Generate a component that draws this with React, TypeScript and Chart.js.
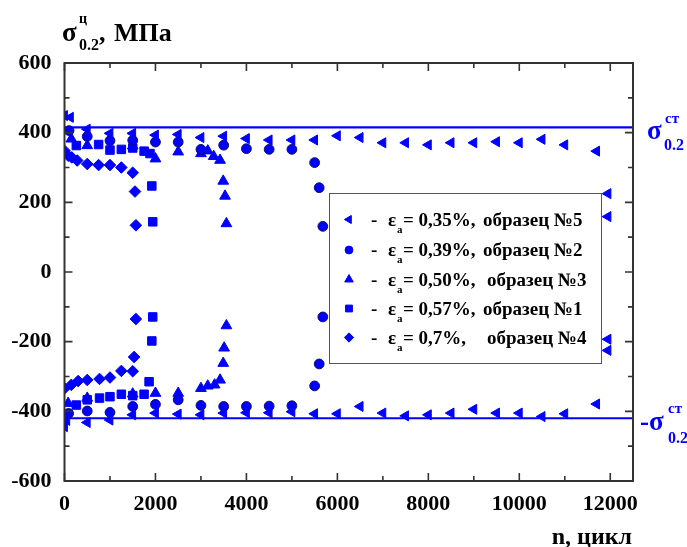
import React, { useEffect, useRef } from 'react';
import { Chart, registerables } from 'chart.js';
import { drawPoint } from 'chart.js/helpers';

Chart.register(...registerables);

// ---- data ----
const xMin = 0;
const xMax = 12500;
const yMin = -600;
const yMax = 600;
const xTickValues = [0, 1000, 2000, 3000, 4000, 5000, 6000, 7000, 8000, 9000, 10000, 11000, 12000];
const xTickLabels = ['0', '', '2000', '', '4000', '', '6000', '', '8000', '', '10000', '', '12000'];
const yTickValues = [-600, -500, -400, -300, -200, -100, 0, 100, 200, 300, 400, 500, 600];
const yTickLabels = ['-600', '', '-400', '', '-200', '', '0', '', '200', '', '400', '', '600'];

const sigmaStUpper = 415;
const sigmaStLower = -420;

// ε = 0,35%, образец №5 (left triangles)
const s5Upper: [number, number][] = [
  [0, 449], [130, 444], [500, 410], [1000, 398], [1500, 398], [2000, 393], [2500, 395],
  [3000, 386], [3500, 390], [4000, 383], [4500, 379], [5000, 379], [5500, 379], [6000, 391],
  [6500, 386], [7000, 371], [7500, 371], [8000, 365], [8500, 371], [9000, 371], [9500, 374],
  [10000, 371], [10500, 381], [11000, 365], [11700, 347], [11950, 225], [11950, 159],
];
const s5Lower: [number, number][] = [
  [0, -444], [50, -426], [500, -432], [1000, -425], [1500, -410], [2000, -405], [2500, -408],
  [3000, -410], [3500, -405], [4000, -404], [4500, -404], [5000, -401], [5500, -407],
  [6000, -407], [6500, -386], [7000, -405], [7500, -413], [8000, -410], [8500, -405],
  [9000, -394], [9500, -405], [10000, -405], [10500, -415], [11000, -407], [11700, -379],
  [11950, -225], [11950, -193],
];

// ε = 0,39%, образец №2 (circles)
const s2Upper: [number, number][] = [
  [100, 406], [500, 389], [1000, 377], [1500, 378], [2000, 373], [2500, 373], [3000, 352],
  [3500, 364], [4000, 354], [4500, 352], [5000, 352], [5500, 314], [5600, 242], [5680, 131],
];
const s2Lower: [number, number][] = [
  [90, -406], [500, -399], [1000, -403], [1500, -386], [2000, -380], [2500, -367], [3000, -383],
  [3500, -386], [4000, -386], [4500, -385], [5000, -384], [5500, -327], [5600, -264], [5680, -129],
];

// ε = 0,50%, образец №3 (triangles)
const s3Upper: [number, number][] = [
  [150, 382], [500, 363], [1500, 362], [2000, 325], [2500, 345], [3000, 340], [3150, 348],
  [3280, 332], [3420, 321], [3490, 261], [3530, 218], [3560, 139],
];
const s3Lower: [number, number][] = [
  [80, -377], [500, -362], [1500, -350], [2000, -348], [2500, -348], [3000, -334], [3150, -327],
  [3300, -324], [3420, -310], [3490, -262], [3510, -218], [3560, -154],
];

// ε = 0,57%, образец №1 (squares)
const s1Upper: [number, number][] = [
  [260, 363], [750, 366], [1000, 350], [1250, 352], [1500, 356], [1750, 347], [1880, 340],
  [1920, 247], [1940, 144],
];
const s1Lower: [number, number][] = [
  [260, -382], [500, -367], [770, -362], [1000, -358], [1250, -351], [1500, -355], [1750, -351],
  [1860, -315], [1920, -198], [1940, -129],
];

// ε = 0,7%, образец №4 (diamonds)
const s4Upper: [number, number][] = [
  [0, 348], [80, 334], [160, 329], [280, 320], [500, 310], [750, 307], [1000, 307], [1250, 300],
  [1500, 285], [1550, 231], [1570, 134],
];
const s4Lower: [number, number][] = [
  [0, -334], [150, -324], [300, -313], [500, -310], [770, -307], [1000, -303], [1250, -284],
  [1500, -285], [1530, -244], [1570, -135],
];

const legendPercents = ['= 0,35%,', '= 0,39%,', '= 0,50%,', '= 0,57%,', '= 0,7%,'];
const legendSamples = ['образец №5', 'образец №2', 'образец №3', 'образец №1', 'образец №4'];

// ---- styles ----
const BLUE = '#0000ff';
const FONT = '"Liberation Serif", "Times New Roman", serif';

type Marker = { pointStyle: string; rotation: number; radius: number };
const markers: Marker[] = [
  { pointStyle: 'triangle', rotation: 270, radius: 5.8 },
  { pointStyle: 'circle', rotation: 0, radius: 4.9 },
  { pointStyle: 'triangle', rotation: 0, radius: 6.2 },
  { pointStyle: 'rect', rotation: 0, radius: 6 },
  { pointStyle: 'rectRot', rotation: 0, radius: 5.8 },
];
const seriesData = [
  [...s5Upper, ...s5Lower],
  [...s2Upper, ...s2Lower],
  [...s3Upper, ...s3Lower],
  [...s1Upper, ...s1Lower],
  [...s4Upper, ...s4Lower],
];
const legendSampleX = [483, 483, 487, 483, 487];

const toXY = (arr: [number, number][]) => arr.map(([x, y]) => ({ x, y }));

const framePlugin = {
  id: 'frameTicks',
  afterDraw(chart: any) {
    const ctx = chart.ctx;
    const { left, right, top, bottom } = chart.chartArea;
    const xs = chart.scales.x;
    const ys = chart.scales.y;
    ctx.save();
    ctx.strokeStyle = '#333';
    ctx.lineWidth = 1.6;
    xs.ticks.forEach((t: any) => {
      const px = xs.getPixelForValue(t.value);
      const len = t.value % 2000 === 0 ? 8 : 5;
      ctx.beginPath();
      ctx.moveTo(px, bottom);
      ctx.lineTo(px, bottom - len);
      ctx.moveTo(px, top);
      ctx.lineTo(px, top + len);
      ctx.stroke();
    });
    ys.ticks.forEach((t: any) => {
      const py = ys.getPixelForValue(t.value);
      const len = t.value % 200 === 0 ? 8 : 5;
      ctx.beginPath();
      ctx.moveTo(left, py);
      ctx.lineTo(left + len, py);
      ctx.moveTo(right, py);
      ctx.lineTo(right - len, py);
      ctx.stroke();
    });
    ctx.lineWidth = 2;
    ctx.strokeRect(left, top, right - left, bottom - top);

    // legend box
    const bx = 329, by = 193, bw = 272, bh = 170;
    ctx.fillStyle = '#fff';
    ctx.fillRect(bx, by, bw, bh);
    ctx.strokeStyle = '#555';
    ctx.lineWidth = 1;
    ctx.strokeRect(bx + 0.5, by + 0.5, bw, bh);
    const rowY = [219.5, 250, 279.5, 308.5, 337.5];
    ctx.textBaseline = 'alphabetic';
    ctx.textAlign = 'left';
    rowY.forEach((ry, i) => {
      const m = markers[i];
      ctx.fillStyle = BLUE;
      ctx.strokeStyle = BLUE;
      ctx.lineWidth = 1;
      drawPoint(ctx, { pointStyle: m.pointStyle as any, rotation: m.rotation, radius: m.radius * 0.8, borderWidth: 1 }, 349, ry);
      ctx.fillStyle = '#000';
      const base = ry + 6;
      ctx.font = `bold 19px ${FONT}`;
      ctx.fillText('-', 371, base);
      ctx.fillText('ε', 388, base);
      ctx.fillText(legendPercents[i], 403, base);
      ctx.fillText(legendSamples[i], legendSampleX[i], base);
      ctx.font = `bold 11px ${FONT}`;
      ctx.fillText('a', 397, base + 7);
    });

    // axis titles
    ctx.fillStyle = '#000';
    ctx.font = `bold 27px ${FONT}`;
    ctx.fillText('σ', 62, 41);
    ctx.font = `bold 14px ${FONT}`;
    ctx.fillText('ц', 79, 23);
    ctx.font = `bold 16px ${FONT}`;
    ctx.fillText('0.2', 79, 50);
    ctx.font = `bold 26px ${FONT}`;
    ctx.fillText(',', 99, 41);
    ctx.fillText('МПа', 114, 41);

    ctx.textAlign = 'right';
    ctx.font = `bold 24px ${FONT}`;
    ctx.fillText('n, цикл', 632, 544);

    // right labels
    ctx.textAlign = 'left';
    ctx.fillStyle = BLUE;
    ctx.font = `bold 27px ${FONT}`;
    ctx.fillText('σ', 647, 139);
    ctx.font = `bold 15px ${FONT}`;
    ctx.fillText('ст', 665, 123);
    ctx.font = `bold 16px ${FONT}`;
    ctx.fillText('0.2', 664, 150);

    ctx.font = `bold 27px ${FONT}`;
    ctx.fillText('-σ', 640, 430);
    ctx.font = `bold 15px ${FONT}`;
    ctx.fillText('ст', 668, 413);
    ctx.font = `bold 16px ${FONT}`;
    ctx.fillText('0.2', 668, 443);
    ctx.restore();
  },
};

export default function App() {
  const ref = useRef<HTMLCanvasElement | null>(null);
  useEffect(() => {
    if (!ref.current) return;
    const datasets: any[] = seriesData.map((d, i) => ({
      type: 'scatter',
      data: toXY(d),
      backgroundColor: BLUE,
      borderColor: i === 1 ? '#10106a' : BLUE,
      borderWidth: 1,
      pointStyle: markers[i].pointStyle,
      pointRotation: markers[i].rotation,
      pointRadius: markers[i].radius,
      showLine: false,
    }));
    datasets.push(
      {
        type: 'scatter',
        data: [{ x: xMin, y: sigmaStUpper }, { x: xMax, y: sigmaStUpper }],
        showLine: true,
        borderColor: BLUE,
        borderWidth: 2.2,
        pointRadius: 0,
      },
      {
        type: 'scatter',
        data: [{ x: xMin, y: sigmaStLower }, { x: xMax, y: sigmaStLower }],
        showLine: true,
        borderColor: BLUE,
        borderWidth: 2,
        pointRadius: 0,
      },
    );
    const tickFont = { family: FONT, size: 22, weight: 'bold' as const };
    const chart = new Chart(ref.current, {
      type: 'scatter',
      data: { datasets },
      options: {
        animation: false,
        responsive: false,
        devicePixelRatio: 1,
        layout: { padding: { top: 63, left: 0, right: 54, bottom: 0 } },
        plugins: { legend: { display: false }, tooltip: { enabled: false }, title: { display: false } },
        scales: {
          x: {
            type: 'linear',
            min: xMin,
            max: xMax,
            grid: { display: false },
            border: { display: false },
            afterBuildTicks: (s: any) => { s.ticks = xTickValues.map((v) => ({ value: v })); },
            ticks: {
              autoSkip: false,
              maxRotation: 0,
              minRotation: 0,
              padding: 2,
              color: '#000',
              font: tickFont,
              callback: (v: any, idx: number) => xTickLabels[idx] ?? '',
            },
            afterFit: (s: any) => { s.height = 66; },
          },
          y: {
            type: 'linear',
            min: yMin,
            max: yMax,
            grid: { display: false },
            border: { display: false },
            afterBuildTicks: (s: any) => { s.ticks = yTickValues.map((v) => ({ value: v })); },
            ticks: {
              autoSkip: false,
              padding: 5,
              color: '#000',
              font: tickFont,
              callback: (v: any, idx: number) => yTickLabels[idx] ?? '',
            },
            afterFit: (s: any) => { s.width = 64.5; },
          },
        },
      },
      plugins: [framePlugin],
    });
    return () => chart.destroy();
  }, []);
  return (
    <div style={{ position: 'fixed', left: 0, top: 0, width: 687, height: 547, background: '#fff' }}>
      <canvas ref={ref} width={687} height={547} />
    </div>
  );
}
